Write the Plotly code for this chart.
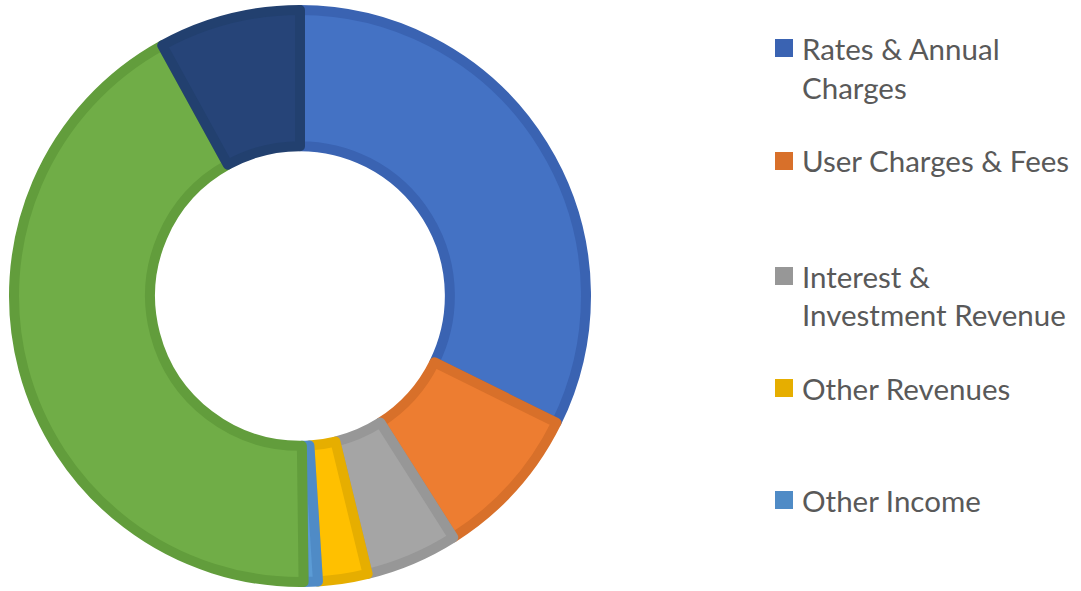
import plotly.graph_objects as go

labels = ["Rates & Annual Charges", "User Charges & Fees", "Interest & Investment Revenue",
          "Other Revenues", "Other Income", "Grants & Contributions - Operating",
          "Grants & Contributions - Capital"]
values = [32.3, 8.7, 5.2, 2.8, 0.8, 42.2, 8.0]
fill_colors = ["#4472C4", "#ED7D31", "#A5A5A5", "#FFC000", "#5B9BD5", "#70AD47", "#264478"]
edge_colors = ["#3A63B2", "#D8702A", "#979797", "#E6AE00", "#4F8BC6", "#629D3C", "#22406F"]

# legend shows only first five entries, with wrapped lines
legend_lines = [["Rates & Annual", "Charges"], ["User Charges & Fees"],
                ["Interest &", "Investment Revenue"], ["Other Revenues"], ["Other Income"]]

W, H = 1081, 591
cx, cy_top, R = 300, 296, 286
cy = H - cy_top

fig = go.Figure()
fig.add_trace(go.Pie(
    labels=labels, values=values, sort=False, direction="clockwise", rotation=0,
    hole=0.524, textinfo="none", hoverinfo="label+percent",
    marker=dict(colors=fill_colors, line=dict(color=edge_colors, width=10)),
    domain=dict(x=[(cx - R) / W, (cx + R) / W], y=[(cy - R) / H, (cy + R) / H]),
    showlegend=False,
))

top_y = [48, 161, 276, 388, 500]
line_h = 39
sq = 18
for i, lines in enumerate(legend_lines):
    y0 = top_y[i]
    fig.add_shape(type="rect", xref="paper", yref="paper",
                  x0=775 / W, x1=(775 + sq) / W,
                  y0=(H - y0 - sq / 2) / H, y1=(H - y0 + sq / 2) / H,
                  fillcolor=edge_colors[i], line=dict(width=0))
    for j, t in enumerate(lines):
        fig.add_annotation(text=t, xref="paper", yref="paper",
                           x=800 / W, y=(H - (y0 + j * line_h)) / H,
                           xanchor="left", yanchor="middle", showarrow=False,
                           font=dict(family="Lato", size=29.5, color="#595959"))

fig.update_layout(width=W, height=H, margin=dict(l=0, r=0, t=0, b=0),
                  paper_bgcolor="white", plot_bgcolor="white")
fig.write_html("out.html")
